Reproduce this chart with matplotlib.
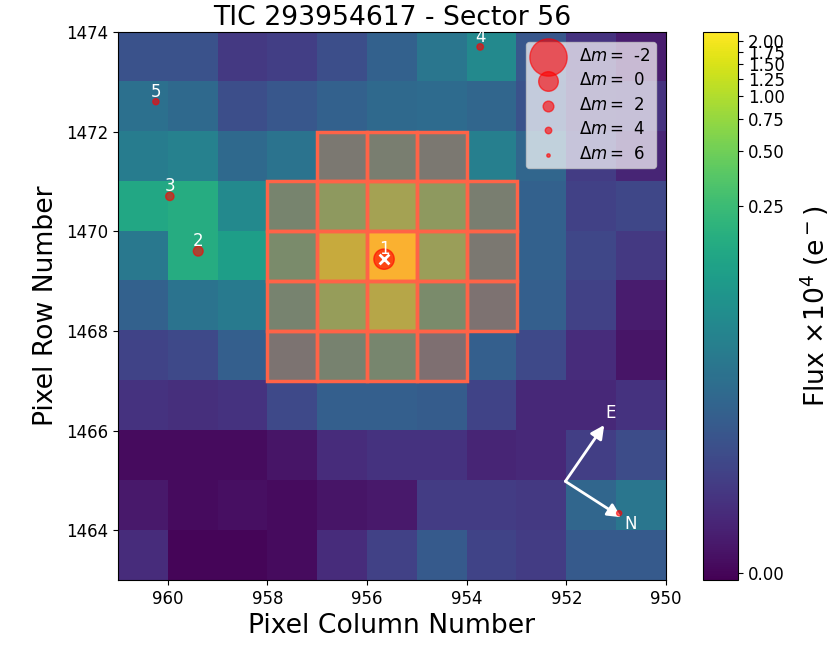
import numpy as np
import matplotlib
matplotlib.use("Agg")
import matplotlib.pyplot as plt
from matplotlib.colors import FuncNorm
from matplotlib.patches import Rectangle

# flux x 10^4, rows from 1473 (top) to 1463, columns from 961 to 951
flux = [
    [.0104, .0104, .0047, .0056, .0095, .0169, .0310, .0556, .0122, .0037, .0014],
    [.0267, .0213, .0095, .0122, .0169, .0213, .0230, .0198, .0104, .0041, .0037],
    [.0387, .0448, .0213, .0288, .0518, .0690, .0518, .0416, .0198, .0052, .0022],
    [.1400, .1610, .0556, .0980, .2810, .4600, .2810, .0690, .0169, .0061, .0073],
    [.0333, .1610, .1050, .1400, .8550, 2.100, .3710, .0518, .0169, .0073, .0047],
    [.0169, .0288, .0359, .0920, .3460, .6450, .1400, .0387, .0156, .0061, .0014],
    [.0067, .0080, .0156, .0416, .0860, .1050, .0333, .0156, .0080, .0029, .0009],
    [.0037, .0033, .0037, .0080, .0156, .0156, .0145, .0067, .0026, .0026, .0037],
    [.0003, .0003, .0003, .0009, .0029, .0037, .0037, .0022, .0026, .0056, .0088],
    [.0012, .0003, .0005, .0003, .0009, .0012, .0052, .0052, .0047, .0198, .0310],
    [.0029, .0000, .0000, .0003, .0029, .0061, .0133, .0067, .0052, .0133, .0133],
]

# lower-left corners of the aperture pixels
aper_col = [956, 955, 954,
            957, 956, 955, 954, 953,
            957, 956, 955, 954, 953,
            957, 956, 955, 954, 953,
            957, 956, 955, 954]
aper_row = [1471, 1471, 1471,
            1470, 1470, 1470, 1470, 1470,
            1469, 1469, 1469, 1469, 1469,
            1468, 1468, 1468, 1468, 1468,
            1467, 1467, 1467, 1467]

star_x = [955.66, 959.39, 959.96, 953.73, 960.24, 950.94]
star_y = [1469.44, 1469.60, 1470.70, 1473.70, 1472.60, 1464.34]
star_s = [215, 50, 36, 22, 20, 14]
star_id = ["1", "2", "3", "4", "5", ""]

legend_dm = [-2, 0, 2, 4, 6]
legend_s = [720, 200, 60, 22, 6]

flux_ticks = [0, .25, .5, .75, 1, 1.25, 1.5, 1.75, 2]
vmin, vmax = -0.0002, 2.25


# astropy style log stretch
def fwd(v):
    x = np.clip((np.asarray(v) - vmin) / (vmax - vmin), 0, None)
    return np.log10(1000 * x + 1) / np.log10(1001)


def inv(p):
    return (10 ** (np.asarray(p) * np.log10(1001)) - 1) / 1000 * (vmax - vmin) + vmin


fig = plt.figure(figsize=(8.3, 6.59), dpi=100)
ax = fig.add_axes([0.1422, 0.1199, 0.6602, 0.8316])
cax = fig.add_axes([0.847, 0.1199, 0.0422, 0.8316])

norm = FuncNorm((fwd, inv), vmin=vmin, vmax=vmax)
im = ax.imshow(flux, cmap="viridis", norm=norm, extent=(961, 950, 1463, 1474),
               origin="upper", aspect="auto", interpolation="nearest")

# ── aperture ──
for c, r in zip(aper_col, aper_row):
    ax.add_patch(Rectangle((c, r), 1, 1, facecolor="tomato", alpha=0.4, edgecolor="none", zorder=2))
    ax.add_patch(Rectangle((c, r), 1, 1, facecolor="none", edgecolor="tomato", lw=2.5, zorder=3))

# ── compass ──
for tip in [(951.24, 1466.11), (950.90, 1464.26)]:
    ax.annotate("", xy=tip, xytext=(952.02, 1464.98), zorder=3.5,
                arrowprops=dict(arrowstyle="-|>", color="white", lw=2, mutation_scale=20,
                                shrinkA=0, shrinkB=0))
ax.text(951.12, 1466.35, "E", color="white", fontsize=12, ha="center", va="center", zorder=6)
ax.text(950.70, 1464.12, "N", color="white", fontsize=12, ha="center", va="center", zorder=6)

# ── stars ──
ax.scatter(star_x, star_y, s=star_s, c="red", alpha=0.6, edgecolors="red", linewidths=1, zorder=4)
ax.scatter(star_x[0], star_y[0], marker="x", s=50, c="white", linewidths=2, zorder=5)
for x, y, label in zip(star_x, star_y, star_id):
    ax.text(x, y + 0.02, label, color="white", fontsize=12, ha="center", va="bottom", zorder=6)

# ── legend ──
handles = [ax.scatter([], [], s=s, c="red", alpha=0.6, edgecolors="red", linewidths=1) for s in legend_s]
labels = [r"$\Delta m=$ " + ("\u200a%d" % d) for d in legend_dm]
ax.legend(handles, labels, loc="upper right", fontsize=12, framealpha=0.7, labelspacing=0.39,
          borderaxespad=0.6, borderpad=0.3, handlelength=2.1, handletextpad=0.8, scatterpoints=1)

ax.set_xlim(961, 950)
ax.set_ylim(1463, 1474)
ax.set_xticks(np.arange(960, 949, -2))
ax.set_yticks(np.arange(1464, 1475, 2))
ax.tick_params(labelsize=12)
ax.set_xlabel("Pixel Column Number", fontsize=19.2)
ax.set_ylabel("Pixel Row Number", fontsize=19.2, labelpad=5)
ax.set_title("TIC 293954617 - Sector 56", fontsize=19.2, pad=5)

cb = fig.colorbar(im, cax=cax, ticks=flux_ticks)
cb.ax.set_yticklabels(["%.2f" % t for t in flux_ticks])
cb.ax.tick_params(labelsize=12)
cb.set_label(r"Flux $\times 10^4$ (e$^-$)", fontsize=19.2, labelpad=10)

fig.savefig("out.png", dpi=100)
